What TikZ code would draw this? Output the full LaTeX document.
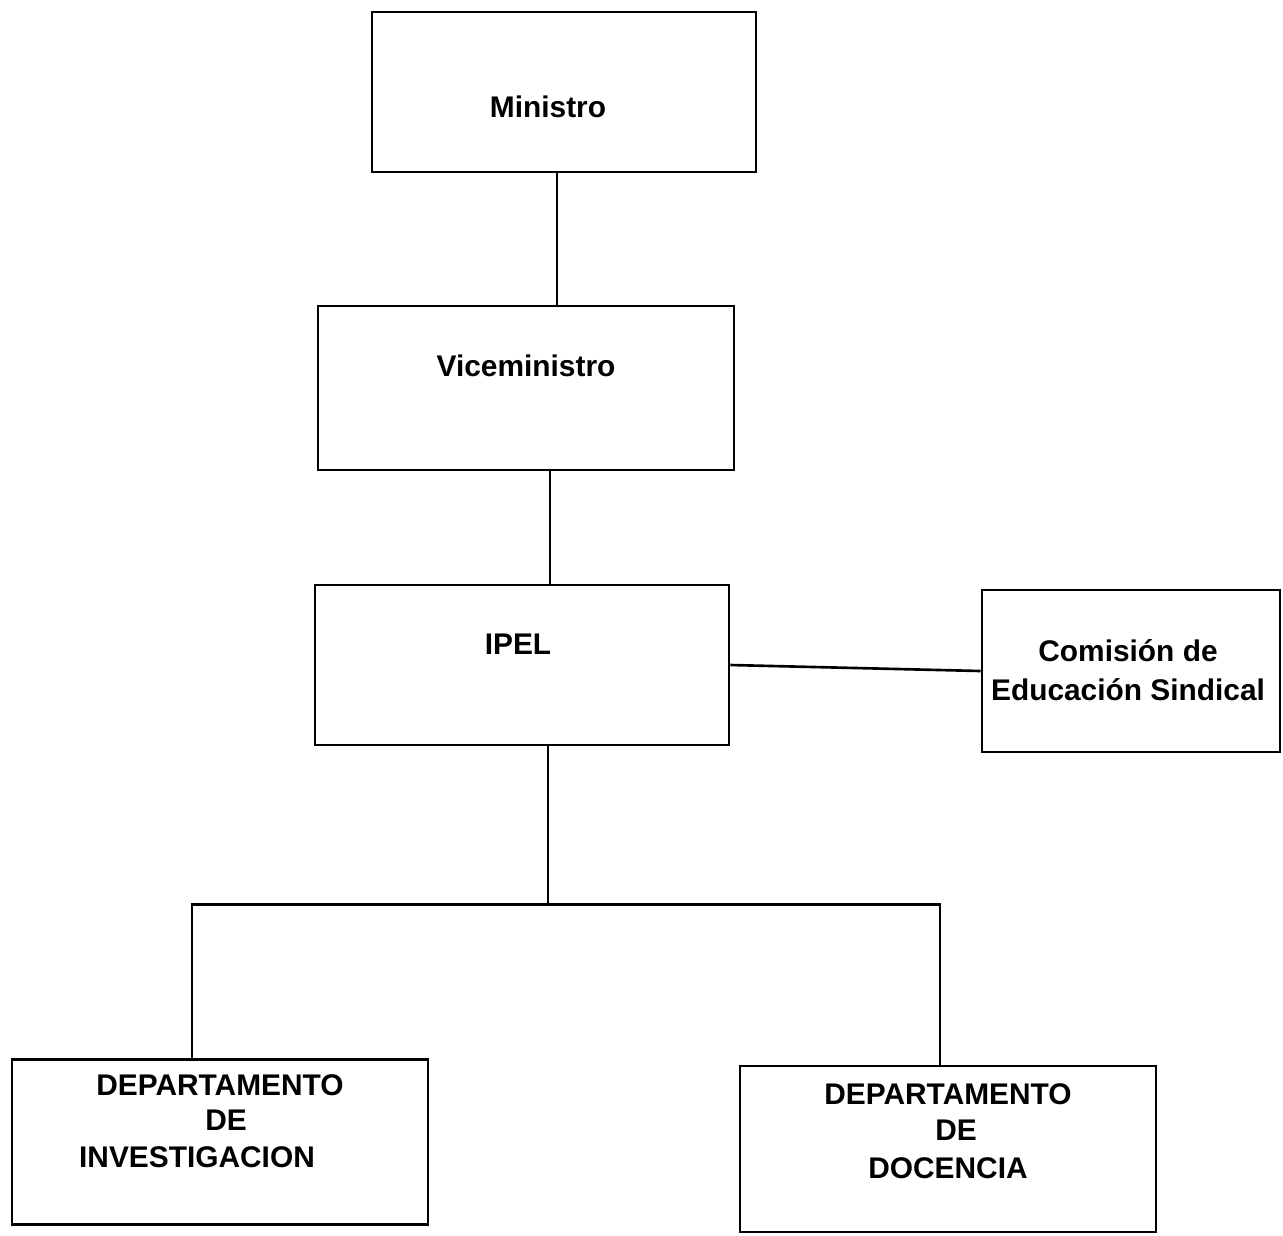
\documentclass[tikz,border=0pt]{standalone}
\usepackage{fontspec}
\setmainfont{Liberation Sans}
\usetikzlibrary{positioning}

\begin{document}
\begin{tikzpicture}[
    x=0.02cm, y=-0.02cm,
    unitbox/.style={draw, line width=1.5pt, inner sep=0pt},
    boxtext/.style={font=\bfseries\fontsize{17}{22}\selectfont, inner sep=0pt, align=center},
    ]

% Page frame
\useasboundingbox (0,0) rectangle (1283,1235);

% Boxes
\node[unitbox, minimum width=384*0.02cm, minimum height=160*0.02cm] (ministro) at (564,92) {};
\node[unitbox, minimum width=416*0.02cm, minimum height=164*0.02cm] (vice) at (526,388) {};
\node[unitbox, minimum width=414*0.02cm, minimum height=160*0.02cm] (ipel) at (522,665) {};
\node[unitbox, minimum width=298*0.02cm, minimum height=162*0.02cm] (comision) at (1131,671) {};
\node[unitbox, minimum width=416*0.02cm, minimum height=165*0.02cm] (invest) at (220,1142) {};
\node[unitbox, minimum width=416*0.02cm, minimum height=166*0.02cm] (docencia) at (948,1149) {};

% Texts
\node[boxtext] (ministroText) at (548,107) {Ministro};
\node[boxtext] (viceText) at (526,366) {Viceministro};
\node[boxtext] (ipelText) at (518,644) {IPEL};
\node[boxtext] (comisionText) at (1128,670) {Comisión de\\Educación Sindical};
\node[boxtext] (investA) at (220,1085) {DEPARTAMENTO};
\node[boxtext] (investB) at (226,1120) {DE};
\node[boxtext] (investC) at (197,1157) {INVESTIGACION};
\node[boxtext] (docenciaA) at (948,1094) {DEPARTAMENTO};
\node[boxtext] (docenciaB) at (956,1130) {DE};
\node[boxtext] (docenciaC) at (948,1168) {DOCENCIA};

% Connectors
\draw[line width=1.5pt] (ministro.south) ++(-7,0) coordinate (m1) -- (m1 |- vice.north);
\draw[line width=1.5pt] (vice.south) ++(24,0) coordinate (v1) -- (v1 |- ipel.north);
\draw[line width=1.5pt] (ipel.east) -- (comision.west);

% Branch to departments
\draw[line width=1.5pt] (ipel.south) ++(26,0) coordinate (i1) -- ++(0,158) coordinate (fork);
\path (fork -| invest.north) ++(-28,0) coordinate (l1);
\path (fork -| docencia.north) ++(-8,0) coordinate (r1);
\draw[line width=1.5pt] (l1 |- invest.north) -- (l1) -- (r1) -- (r1 |- docencia.north);

\end{tikzpicture}
\end{document}
